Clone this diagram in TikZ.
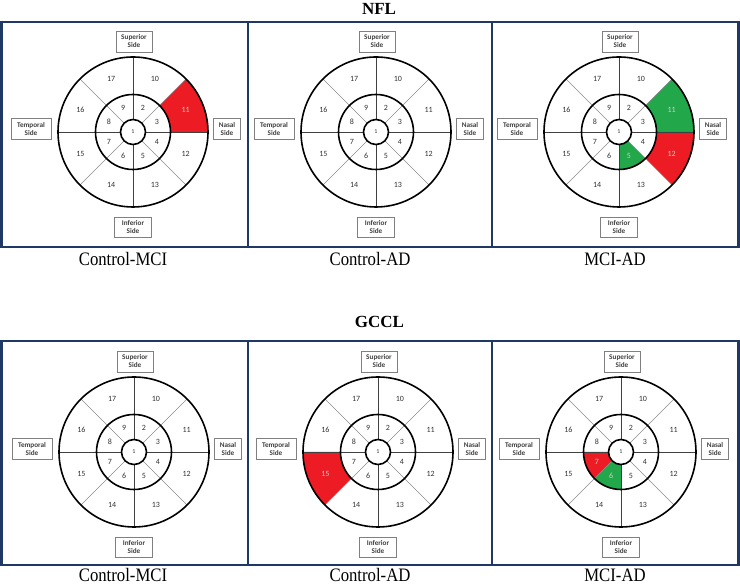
\documentclass[tikz,border=0pt]{standalone}
\usepackage{fontspec}
\setmainfont{Liberation Serif}
\newfontfamily\lblfont{Carlito}
\definecolor{navy}{HTML}{1F3864}
\definecolor{sred}{HTML}{ED1C24}
\definecolor{sgreen}{HTML}{22A84A}
\tikzset{
  frame/.style={draw=navy, line width=2.2pt},
  ring/.style={draw=black, line width=1.6pt},
  axisline/.style={draw=black!75, line width=0.9pt},
  diagline/.style={draw=black!45, line width=0.6pt},
  sidebox/.style={draw=black!50, line width=0.8pt, fill=white, inner sep=0pt, align=center,
    font=\lblfont\bfseries\fontsize{7.2}{8}\selectfont, text=black!75},
  segnum/.style={font=\lblfont\fontsize{8}{9}\selectfont, inner sep=0pt},
  title/.style={font=\fontsize{17}{20}\selectfont\bfseries, anchor=base},
  caption/.style={font=\fontsize{19}{22}\selectfont, anchor=base, xscale=0.88},
}
\newcommand\segfill[3]{\expandafter\def\csname sf#1-#2\endcsname{#3}}
\newcommand\chart[3]{%
  \begin{scope}[shift={(#2,#3)}]
    \foreach \n/\a in {2/67.5,3/22.5,4/-22.5,5/-67.5,6/-112.5,7/-157.5,8/157.5,9/112.5}{%
      \ifcsname sf#1-\n\endcsname
        \edef\fc{\csname sf#1-\n\endcsname}%
        \fill[fill=\fc] ({\a-22.5}:12.5) -- ({\a-22.5}:37.5)
          arc[start angle={\a-22.5}, end angle={\a+22.5}, radius=37.5]
          -- ({\a+22.5}:12.5) arc[start angle={\a+22.5}, end angle={\a-22.5}, radius=12.5] -- cycle;
      \fi}
    \foreach \n/\a in {10/67.5,11/22.5,12/-22.5,13/-67.5,14/-112.5,15/-157.5,16/157.5,17/112.5}{%
      \ifcsname sf#1-\n\endcsname
        \edef\fc{\csname sf#1-\n\endcsname}%
        \fill[fill=\fc] ({\a-22.5}:37.5) -- ({\a-22.5}:75)
          arc[start angle={\a-22.5}, end angle={\a+22.5}, radius=75]
          -- ({\a+22.5}:37.5) arc[start angle={\a+22.5}, end angle={\a-22.5}, radius=37.5] -- cycle;
      \fi}
    \foreach \a in {0,90,180,270}{\draw[axisline] (\a:12.5) -- (\a:75);}
    \foreach \a in {45,135,225,315}{\draw[diagline] (\a:12.5) -- (\a:75);}
    \draw[ring] (0,0) circle[radius=12.5];
    \draw[ring] (0,0) circle[radius=37.5];
    \draw[ring] (0,0) circle[radius=75];
    \node[segnum, text=black!80, font=\lblfont\fontsize{6}{7}\selectfont] (c#1) at (0,0) {1};
    \foreach \n/\a/\r in {2/67.5/26,3/22.5/26,4/-22.5/26,5/-67.5/26,6/-112.5/26,7/-157.5/26,8/157.5/26,9/112.5/26,
        10/67.5/57,11/22.5/57,12/-22.5/57,13/-67.5/57,14/-112.5/57,15/-157.5/57,16/157.5/57,17/112.5/57}{%
      \ifcsname sf#1-\n\endcsname
        \node[segnum, text=white!80!black] (n#1-\n) at (\a:\r) {\n};
      \else
        \node[segnum, text=black!80] (n#1-\n) at (\a:\r) {\n};
      \fi}
    \node[sidebox, minimum width=36pt, minimum height=21pt] (sup#1) at (1,90.5) {Superior\\Side};
    \node[sidebox, minimum width=37pt, minimum height=20pt] (inf#1) at (0,-95) {Inferior\\Side};
    \node[sidebox, minimum width=40pt, minimum height=21pt] (tem#1) at (-102,3) {Temporal\\Side};
    \node[sidebox, minimum width=27pt, minimum height=21pt] (nas#1) at (94,3) {Nasal\\Side};
  \end{scope}}
\segfill{1}{11}{sred}
\segfill{3}{11}{sgreen}
\segfill{3}{12}{sred}
\segfill{3}{5}{sgreen}
\segfill{5}{15}{sred}
\segfill{6}{7}{sred}
\segfill{6}{6}{sgreen}
\begin{document}
\begin{tikzpicture}[x=1pt,y=1pt]
  \useasboundingbox (0,0) rectangle (740,586);
  \fill[white] (0,0) rectangle (740,586);
  % frames
  \draw[frame] (1.5,564) rectangle (248,339);
  \draw[frame] (248,564) rectangle (492,339);
  \draw[frame] (492,564) rectangle (738.5,339);
  \draw[frame] (1.5,245) rectangle (248,21);
  \draw[frame] (248,245) rectangle (492,21);
  \draw[frame] (492,245) rectangle (738.5,21);
  % charts
  \chart{1}{133}{454}
  \chart{2}{376}{454}
  \chart{3}{619}{454}
  \chart{4}{134}{134}
  \chart{5}{378}{134}
  \chart{6}{621}{134}
  % titles
  \node[title] (tNFL) at (379,571) {NFL};
  \node[title] (tGCCL) at (379.5,258) {GCCL};
  % captions
  \node[caption] (cap1) at (123,320) {Control-MCI};
  \node[caption] (cap2) at (370,320) {Control-AD};
  \node[caption] (cap3) at (615,320) {MCI-AD};
  \node[caption] (cap4) at (123,4.5) {Control-MCI};
  \node[caption] (cap5) at (370,4.5) {Control-AD};
  \node[caption] (cap6) at (615,4.5) {MCI-AD};
\end{tikzpicture}
\end{document}
